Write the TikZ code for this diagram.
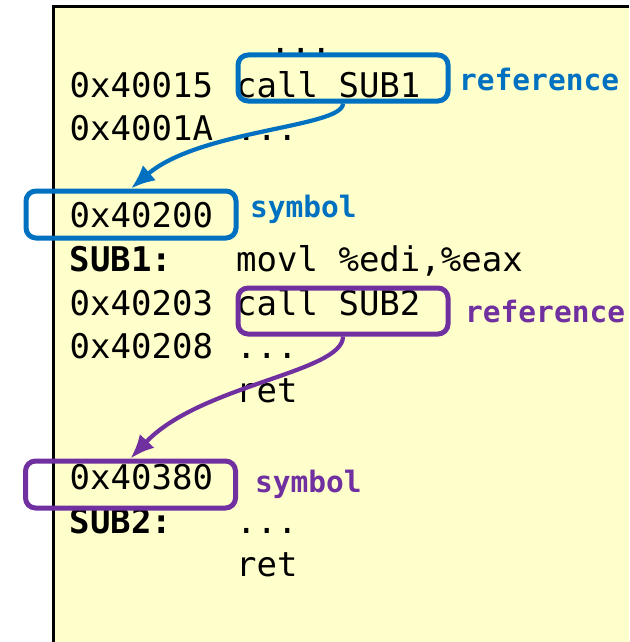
\documentclass[tikz,border=0pt]{standalone}
\usepackage{fontspec}
\setmonofont{DejaVu Sans Mono}
\usetikzlibrary{arrows.meta}
\definecolor{refblue}{HTML}{0070C0}
\definecolor{refpurple}{HTML}{7030A0}
\definecolor{listingbg}{HTML}{FFFFCC}
\begin{document}
\begin{tikzpicture}[x=1pt,y=-1pt,
  code/.style={font=\fontsize{34}{40}\selectfont\ttfamily, anchor=base west, inner sep=0pt},
  codebold/.style={font=\fontsize{34}{40}\selectfont\ttfamily\bfseries, anchor=base west, inner sep=0pt},
  notetext/.style={font=\fontsize{29.5}{35}\selectfont\ttfamily\bfseries, anchor=base west, inner sep=0pt},
  hlbox/.style={draw, line width=5pt, rounded corners=10pt, inner sep=0pt, minimum width=210pt, minimum height=46pt},
  link/.style={line width=4.2pt, -{Latex[length=24pt,width=20pt]}}]
\useasboundingbox (0,0) rectangle (629,642);

% listing background with its left and top edge
\fill[listingbg] (53.4,6.3) rectangle (629,642);
\draw[line width=3pt] (53.4,642) -- (53.4,6.3) -- (629,6.3);

% listing: addresses and instructions
\node[code] (r0)  at (270,53.4)  {...};
\node[code] (a1)  at (69.5,97)   {0x40015};
\node[code] (i1)  at (236,97)    {call SUB1};
\node[code] (a2)  at (69.5,140.6) {0x4001A};
\node[code] (i2)  at (236,140.6) {...};
\node[code] (a4)  at (69.5,227.8) {0x40200};
\node[codebold] (l5) at (69.5,271.4) {SUB1:};
\node[code] (i5)  at (236,271.4) {movl \%edi,\%eax};
\node[code] (a6)  at (69.5,315)  {0x40203};
\node[code] (i6)  at (236,315)   {call SUB2};
\node[code] (a7)  at (69.5,358.6) {0x40208};
\node[code] (i7)  at (236,358.6) {...};
\node[code] (i8)  at (236,402.2) {ret};
\node[code] (a10) at (69.5,489.4) {0x40380};
\node[codebold] (l11) at (69.5,533) {SUB2:};
\node[code] (i11) at (236,533)   {...};
\node[code] (i12) at (236,576.6) {ret};

% highlight boxes
\node[hlbox, refblue] (callA) at (343,78) {};
\node[hlbox, refblue, minimum height=47pt] (symA) at (131,214.5) {};
\node[hlbox, refpurple] (callB) at (343,311) {};
\node[hlbox, refpurple, minimum height=47pt] (symB) at (130.5,484.5) {};

% box captions
\node[notetext, refblue] (refA) at (459,90) {reference};
\node[notetext, refblue] (tagA) at (250,217) {symbol};
\node[notetext, refpurple] (refB) at (465,322) {reference};
\node[notetext, refpurple] (tagB) at (255,492) {symbol};

% call edges from reference to symbol
\draw[link, refblue] (callA.south) .. controls +(0,24) and +(69,-59) .. (symA.north);
\draw[link, refpurple] (callB.south) .. controls +(0,36) and +(70,-74) .. (symB.north);
\end{tikzpicture}
\end{document}
